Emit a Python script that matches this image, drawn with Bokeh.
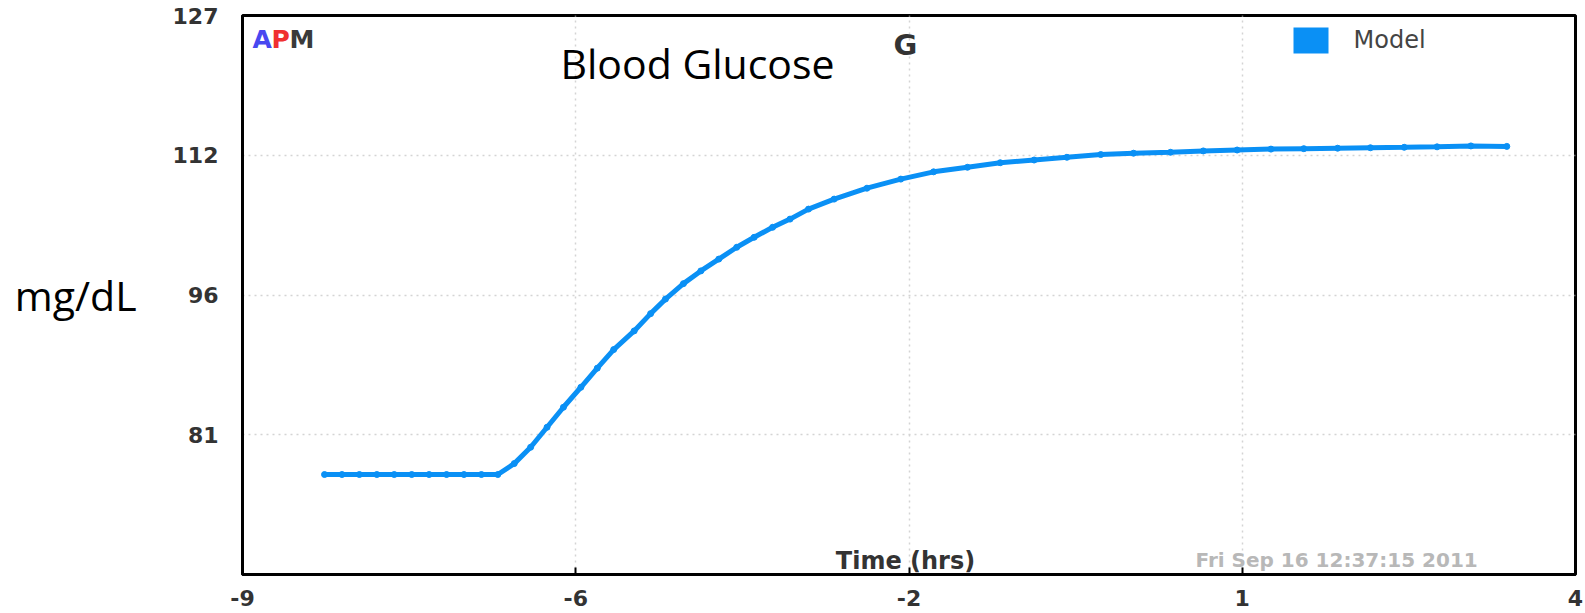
from bokeh.plotting import figure
from bokeh.models import Range1d, FixedTicker, Label, BoxAnnotation
from bokeh.embed import file_html
from bokeh.resources import INLINE

# ---- data ----
time_hrs = [-8.2, -8.03, -7.86, -7.69, -7.52, -7.35, -7.18, -7.01, -6.84, -6.67, -6.51,
            -6.35, -6.19, -6.03, -5.87, -5.70, -5.54, -5.38, -5.18, -5.02, -4.875, -4.70,
            -4.53, -4.355, -4.18, -4.01, -3.83, -3.66, -3.48,
            -3.23, -2.91, -2.58, -2.26, -1.93, -1.61, -1.28, -0.96, -0.63, -0.31,
            0.05, 0.37, 0.70, 1.03, 1.35, 1.68, 2.00, 2.33, 2.65, 2.98, 3.33]
glucose = [76.5] * 11 + [77.7, 79.5, 81.7, 83.9, 86.1, 88.2, 90.25, 92.3, 94.2, 95.8, 97.5,
                         98.9, 100.2, 101.5, 102.6, 103.7, 104.6, 105.7,
                         106.8, 108.0, 109.0, 109.8, 110.3, 110.8, 111.1, 111.4, 111.7, 111.85,
                         111.95, 112.1, 112.2, 112.3, 112.35, 112.4, 112.45, 112.5, 112.55, 112.65, 112.6]

x_ticks = [-9, -5.75, -2.5, 0.75, 4]
x_tick_labels = ["-9", "-6", "-2", "1", "4"]
y_ticks = [80.875, 96.25, 111.625, 127]
y_tick_labels = ["81", "96", "112", "127"]

series_name = "Model"
title_text = "G"
subtitle_text = "Blood Glucose"
x_title = "Time (hrs)"
y_title = "mg/dL"
stamp_text = "Fri Sep 16 12:37:15 2011"

BLUE = "#0a90f5"

p = figure(width=1585, height=613, output_backend="svg", toolbar_location=None,
           x_range=Range1d(-9, 4), y_range=Range1d(65.5, 127),
           min_border_left=242, min_border_right=10, min_border_top=15, min_border_bottom=39)

p.outline_line_color = "black"
p.outline_line_width = 3
p.background_fill_color = "white"
p.border_fill_color = "white"

# axes
p.xaxis.ticker = FixedTicker(ticks=x_ticks)
p.xaxis.major_label_overrides = {t: l for t, l in zip(x_ticks, x_tick_labels)}
p.yaxis.ticker = FixedTicker(ticks=y_ticks)
p.yaxis.major_label_overrides = {t: l for t, l in zip(y_ticks, y_tick_labels)}
for ax in (p.xaxis, p.yaxis):
    ax.axis_line_color = "black"
    ax.axis_line_width = 3
    ax.minor_tick_line_color = None
    ax.major_label_text_font = "DejaVu Sans"
    ax.major_label_text_font_style = "bold"
    ax.major_label_text_font_size = "22px"
    ax.major_label_text_color = "#333333"
p.xaxis.major_tick_in = 7
p.xaxis.major_tick_out = 0
p.xaxis.major_tick_line_width = 2
p.xaxis.major_tick_line_color = "black"
p.xaxis.major_label_standoff = 15
p.yaxis.major_tick_line_color = None
p.yaxis.major_label_standoff = 18

# y title as a horizontal axis label (outside the frame)
y_label_done = False
try:
    p.yaxis.axis_label = y_title
    p.yaxis.axis_label_orientation = "horizontal"
    p.yaxis.axis_label_text_font = "Open Sans"
    p.yaxis.axis_label_text_font_size = "41px"
    p.yaxis.axis_label_text_font_style = "normal"
    p.yaxis.axis_label_text_color = "black"
    p.yaxis.axis_label_standoff = 33
    p.yaxis.axis_label_text_baseline = "hanging"
    y_label_done = True
except Exception:
    p.yaxis.axis_label = None

# grid
p.xgrid.grid_line_color = "#d4d4d4"
p.ygrid.grid_line_color = "#d4d4d4"
p.xgrid.grid_line_dash = "2 4"
p.ygrid.grid_line_dash = "2 4"
p.xgrid.grid_line_width = 1.5
p.ygrid.grid_line_width = 1.5

# data
p.line(time_hrs, glucose, line_color=BLUE, line_width=5)
p.scatter(time_hrs, glucose, marker="circle", size=6, color=BLUE)

# legend swatch (screen units relative to the frame)
p.add_layout(BoxAnnotation(left=1051, right=1086, bottom=521, top=547,
                           left_units="screen", right_units="screen",
                           bottom_units="screen", top_units="screen",
                           fill_color=BLUE, fill_alpha=1.0, line_color=None))

# texts (screen units relative to the frame, y up); baseline shift compensates rendering
def lab(text, x, y, font, size, color, style="normal", align="left"):
    px = float(size.replace("px", ""))
    p.add_layout(Label(text=text, x=x, y=y + 0.37 * px, x_units="screen", y_units="screen",
                       text_font=font, text_font_size=size, text_color=color,
                       text_font_style=style, text_align=align,
                       text_baseline="alphabetic"))

lab("A", 10, 526, "DejaVu Sans", "25px", "#4848f0", "bold")
lab("P", 29, 526, "DejaVu Sans", "25px", "#f03030", "bold")
lab("M", 47, 526, "DejaVu Sans", "25px", "#3a3a3a", "bold")
lab(title_text, 663, 519, "DejaVu Sans", "29px", "#333333", "bold", "center")
lab(subtitle_text, 318, 496, "Open Sans", "41px", "black")
lab(series_name, 1111, 526, "DejaVu Sans", "24px", "#444444")
lab(x_title, 663, 5, "DejaVu Sans", "24px", "#333333", "bold", "center")
lab(stamp_text, 953, 7, "DejaVu Sans", "20px", "#b8b8b8", "bold")
if not y_label_done:
    lab(y_title, -227, 253, "Open Sans", "41px", "black")

open("out.html", "w").write(file_html(p, INLINE))
